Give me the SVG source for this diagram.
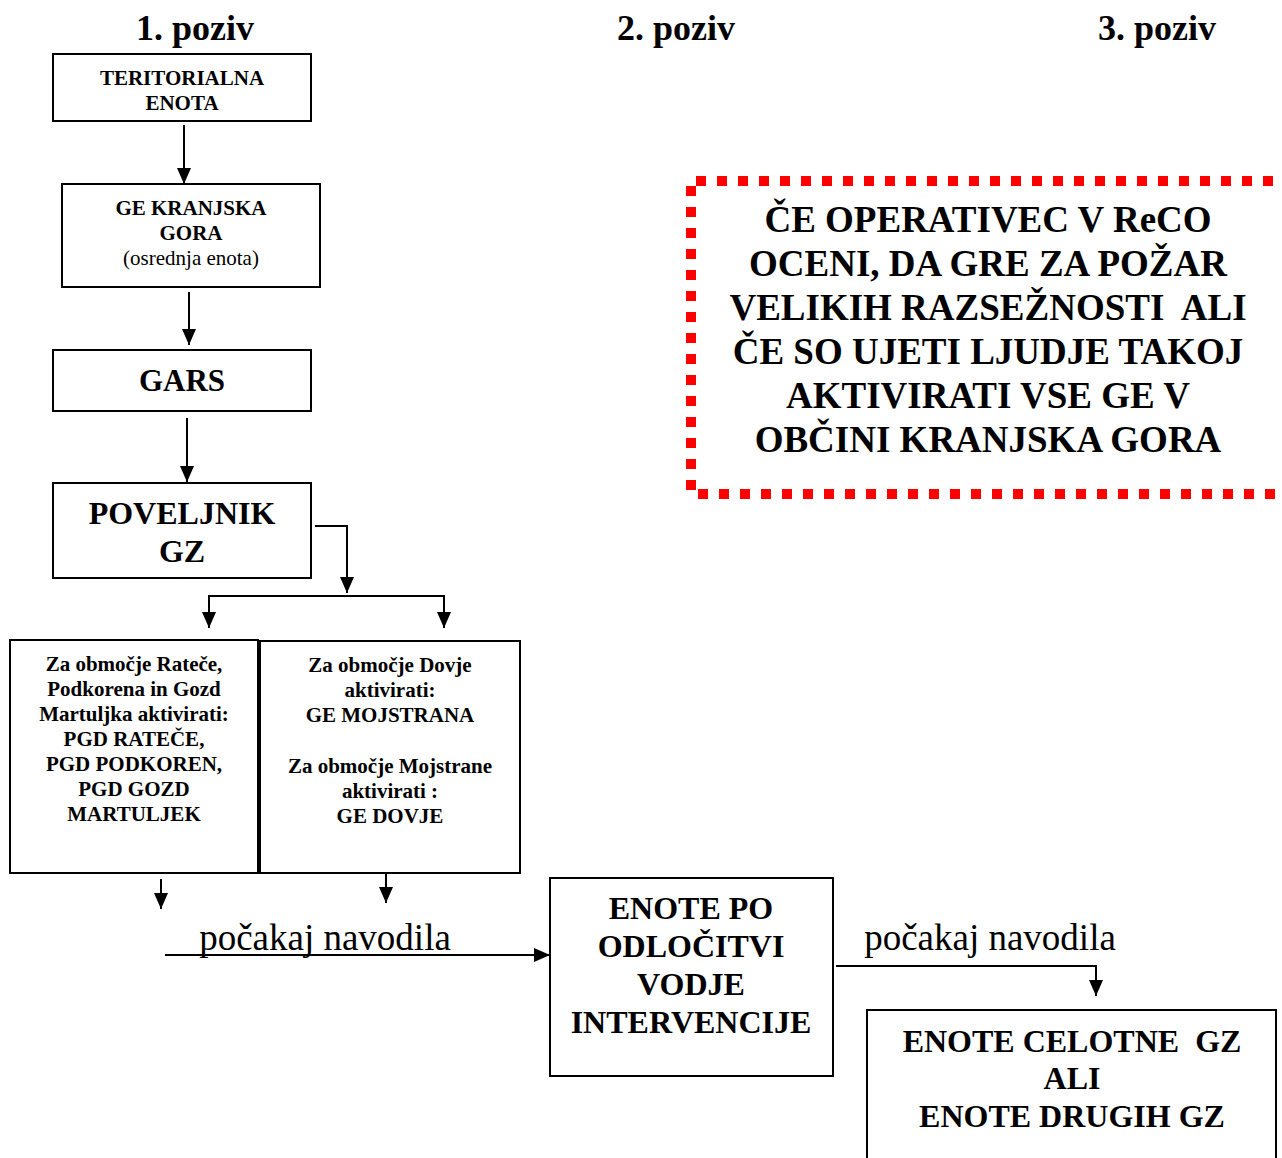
<svg xmlns="http://www.w3.org/2000/svg" width="1282" height="1158" viewBox="0 0 1282 1158">
<style>
text{font-family:"Liberation Serif","Times New Roman",serif;fill:#000;text-anchor:middle}
.b{font-weight:bold}
.box{fill:#fff;stroke:#000;stroke-width:2}
.con{fill:none;stroke:#000;stroke-width:2}
.hd{font-size:36px;font-weight:bold}
.s{font-size:21px}
.m{font-size:32px;font-weight:bold}
.r{font-size:37px;font-weight:bold}
.lbl{font-size:37px}
</style>
<defs>
<marker id="ah" viewBox="0 0 16 14" refX="16" refY="7" markerWidth="16" markerHeight="14" markerUnits="userSpaceOnUse" orient="auto">
<path d="M0,0 L16,7 L0,14 Z" fill="#000"/>
</marker>
</defs>
<rect width="1282" height="1158" fill="#fff"/>
<g id="headers">
<text class="hd" x="195" y="40">1. poziv</text>
<text class="hd" x="676" y="40">2. poziv</text>
<text class="hd" x="1157" y="40">3. poziv</text>
</g>
<g id="n-teritorialna">
<rect class="box" x="53" y="54" width="258" height="67"/>
<text class="s b" x="182" y="85">TERITORIALNA</text>
<text class="s b" x="182" y="110">ENOTA</text>
</g>
<g id="n-gekranjska">
<rect class="box" x="62" y="184" width="258" height="103"/>
<text class="s b" x="191" y="215">GE KRANJSKA</text>
<text class="s b" x="191" y="240">GORA</text>
<text class="s" x="191" y="265">(osrednja enota)</text>
</g>
<g id="n-gars">
<rect class="box" x="53" y="350" width="258" height="61"/>
<text class="b" style="font-size:31px" x="182" y="391">GARS</text>
</g>
<g id="n-poveljnik">
<rect class="box" x="53" y="483" width="258" height="95"/>
<text class="m" x="182" y="524">POVELJNIK</text>
<text class="m" x="182" y="562">GZ</text>
</g>
<g id="n-ratece">
<rect class="box" x="10" y="640" width="248" height="233"/>
<text class="s b" x="134" y="671">Za območje Rateče,</text>
<text class="s b" x="134" y="696">Podkorena in Gozd</text>
<text class="s b" x="134" y="721">Martuljka aktivirati:</text>
<text class="s b" x="134" y="746">PGD RATEČE,</text>
<text class="s b" x="134" y="771">PGD PODKOREN,</text>
<text class="s b" x="134" y="796">PGD GOZD</text>
<text class="s b" x="134" y="821">MARTULJEK</text>
</g>
<g id="n-dovje">
<rect class="box" x="260" y="641" width="260" height="232"/>
<text class="s b" x="390" y="672">Za območje Dovje</text>
<text class="s b" x="390" y="697">aktivirati:</text>
<text class="s b" x="390" y="722">GE MOJSTRANA</text>
<text class="s b" x="390" y="773">Za območje Mojstrane</text>
<text class="s b" x="390" y="798">aktivirati :</text>
<text class="s b" x="390" y="823">GE DOVJE</text>
</g>
<g id="n-enotepo">
<rect class="box" x="550" y="878" width="283" height="198"/>
<text class="m" x="691" y="919">ENOTE PO</text>
<text class="m" x="691" y="957">ODLOČITVI</text>
<text class="m" x="691" y="995">VODJE</text>
<text class="m" x="691" y="1033">INTERVENCIJE</text>
</g>
<g id="n-celotne">
<rect class="box" x="867" y="1010" width="409" height="160"/>
<text class="m" x="1072" y="1052" xml:space="preserve">ENOTE CELOTNE  GZ</text>
<text class="m" x="1072" y="1089">ALI</text>
<text class="m" x="1072" y="1127">ENOTE DRUGIH GZ</text>
</g>
<g id="n-note">
<rect x="691" y="181" width="600" height="313" fill="none" stroke="#f00" stroke-width="10" stroke-dasharray="10 11" stroke-dashoffset="-5"/>
<text class="r" x="988" y="232">ČE OPERATIVEC V ReCO</text>
<text class="r" x="988" y="276">OCENI, DA GRE ZA POŽAR</text>
<text class="r" x="988" y="320" xml:space="preserve">VELIKIH RAZSEŽNOSTI  ALI</text>
<text class="r" x="988" y="364">ČE SO UJETI LJUDJE TAKOJ</text>
<text class="r" x="988" y="408">AKTIVIRATI VSE GE V</text>
<text class="r" x="988" y="452">OBČINI KRANJSKA GORA</text>
</g>
<g id="connectors">
<line class="con" x1="184" y1="125" x2="184" y2="184" marker-end="url(#ah)"/>
<line class="con" x1="189" y1="292" x2="189" y2="345" marker-end="url(#ah)"/>
<line class="con" x1="187" y1="418" x2="187" y2="482" marker-end="url(#ah)"/>
<polyline class="con" points="315,526 347,526 347,593" marker-end="url(#ah)"/>
<polyline class="con" points="209,612 209,596 444,596 444,612"/>
<line class="con" x1="209" y1="600" x2="209" y2="628" marker-end="url(#ah)"/>
<line class="con" x1="444" y1="600" x2="444" y2="628" marker-end="url(#ah)"/>
<line class="con" x1="161" y1="879" x2="161" y2="909" marker-end="url(#ah)"/>
<line class="con" x1="386" y1="874" x2="386" y2="903" marker-end="url(#ah)"/>
<line class="con" x1="165" y1="955" x2="550" y2="955" marker-end="url(#ah)"/>
<polyline class="con" points="836,966 1096,966 1096,996" marker-end="url(#ah)"/>
<text class="lbl" x="325" y="950">počakaj navodila</text>
<text class="lbl" x="990" y="950">počakaj navodila</text>
</g>
</svg>
